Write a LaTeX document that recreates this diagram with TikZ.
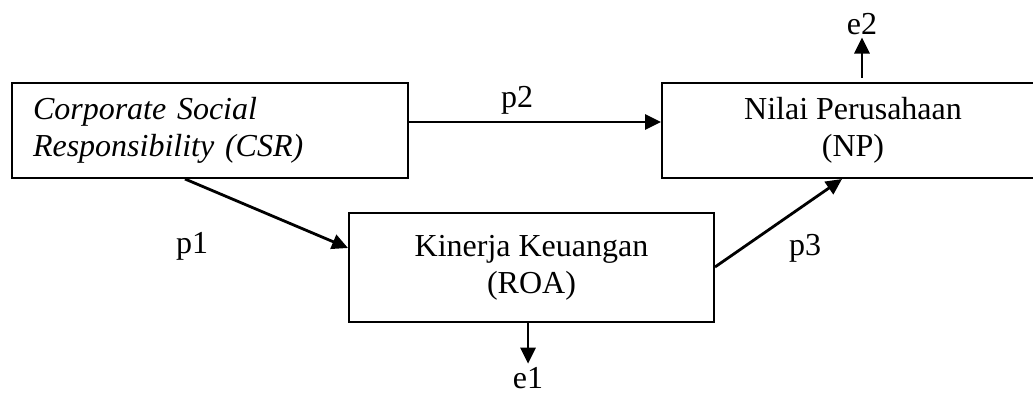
\documentclass[tikz,border=0pt]{standalone}
\usepackage{fontspec}
\setmainfont{Liberation Serif}
\usetikzlibrary{arrows.meta}
\begin{document}
\begin{tikzpicture}[x=1pt,y=-1pt,
  box/.style={draw, line width=2pt, inner sep=0pt, font=\fontsize{32}{36.8}\selectfont},
  lbl/.style={inner sep=0pt, anchor=base, font=\fontsize{32}{36.8}\selectfont},
  arr/.style={line width=2.8pt, -{Triangle[length=16pt,width=15pt]}}]
\useasboundingbox (0,0) rectangle (1033,398);
\node[box, minimum width=396pt, minimum height=95pt, align=left, text width=354pt] (csr) at (210,130.5) {\itshape Corporate Social\\ \itshape Responsibility (CSR)};
\node[box, minimum width=382pt, minimum height=95pt, align=center] (np) at (853,130.5) {Nilai Perusahaan\\(NP)};
\node[box, minimum width=365pt, minimum height=109pt, align=center] (roa) at (531.5,267.5) {Kinerja Keuangan\\(ROA)};
\node[lbl] (p1) at (192,253) {p1};
\node[lbl] (p2) at (517,108) {p2};
\node[lbl] (p3) at (805,255) {p3};
\node[lbl] (e1) at (528,388) {e1};
\node[lbl] (e2) at (862,35) {e2};
\coordinate (yp2) at (0,122);
\coordinate (xp1) at (185,0);
\coordinate (yp1) at (0,248);
\coordinate (yp3) at (0,267);
\coordinate (xp3) at (842,0);
\draw[arr] (csr.east |- yp2) -- (np.west |- yp2);
\draw[arr] (csr.south -| xp1) -- (roa.west |- yp1);
\draw[arr] (roa.east |- yp3) -- (np.south -| xp3);
\draw[arr, shorten >=3pt] (roa.south -| e1) -- (e1.north);
\draw[arr, shorten <=4pt, shorten >=2pt] (np.north -| e2) -- (e2.south);
\end{tikzpicture}
\end{document}
